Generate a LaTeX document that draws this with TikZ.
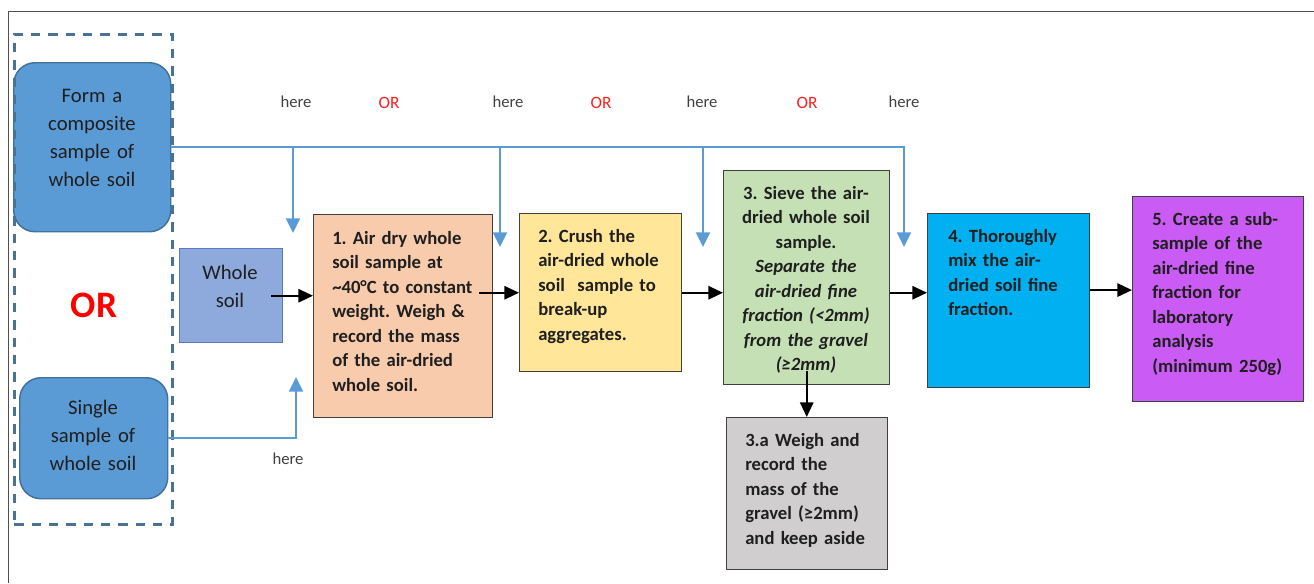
\documentclass[tikz,border=0pt]{standalone}
\usepackage{fontspec}
\setmainfont{Carlito}
\usetikzlibrary{arrows.meta}
\frenchspacing

\tikzset{
  boxsize/.style 2 args={minimum width=0.75*#1pt, minimum height=0.75*#2pt},
  stepbox/.style={draw={rgb, 255:red, 64; green, 64; blue, 64}, line width=1.1pt, inner sep=0pt, anchor=north west},
  samplebox/.style={draw={rgb, 255:red, 65; green, 113; blue, 156}, fill={rgb, 255:red, 91; green, 155; blue, 213}, line width=1.1pt, rounded corners=16pt, inner sep=0pt, anchor=north west},
  steptext/.style={font=\fontsize{14}{18.4}\selectfont\bfseries, text={rgb, 255:red, 31; green, 31; blue, 31}, inner sep=0pt, align=left, anchor=base west},
  sampletext/.style={font=\fontsize{15.5}{21}\selectfont, text={rgb, 255:red, 31; green, 31; blue, 31}, inner sep=0pt, text width=105pt, align=center, anchor=base},
  heretext/.style={font=\fontsize{12.5}{15}\selectfont, text={rgb, 255:red, 64; green, 64; blue, 64}, inner sep=0pt},
  ortext/.style={font=\fontsize{13}{15}\selectfont, text={rgb, 255:red, 255; green, 30; blue, 30}, inner sep=0pt},
  blueline/.style={draw={rgb, 255:red, 91; green, 155; blue, 213}, line width=1.5pt, -{Triangle[width=10.5pt,length=11pt]}},
  blackline/.style={draw=black, line width=1.5pt, -{Triangle[width=10pt,length=11pt]}},
}

\begin{document}
\begin{tikzpicture}[x=0.75pt,y=0.75pt,yscale=-1,xscale=1]
  \useasboundingbox (0,0) rectangle (1314,583);

  %Straight Lines: frame
  \draw [color={rgb, 255:red, 80; green, 80; blue, 80 }, line width=1.1pt] (8.5,583) -- (8.5,11.5) -- (1314,11.5);

  %Shape: samples
  \node [samplebox, boxsize={157}{169}] (comp) at (13,62) {};
  \node [samplebox, boxsize={148}{121}] (single) at (19,377) {};
  % Text Node
  \node [sampletext] (comptxt) at (92,102) {Form a\\composite\\sample of\\whole soil};
  \node [sampletext] (singletxt) at (93,414) {Single\\sample of\\whole soil};
  \node [font=\fontsize{28}{30}\selectfont\bfseries, text={rgb, 255:red, 255; green, 0; blue, 0}, inner sep=0pt] (bigor) at (94,305) {OR};

  %Shape: dashed group
  \node [draw={rgb, 255:red, 74; green, 113; blue, 150}, line width=2.2pt, dash pattern=on 7pt off 6pt, inner sep=0pt, anchor=north west, boxsize={158}{490}] (choice) at (13,33) {};

  %Shape: whole soil
  \node [draw={rgb, 255:red, 90; green, 120; blue, 190}, fill={rgb, 255:red, 142; green, 169; blue, 219}, line width=1.1pt, inner sep=0pt, anchor=north west, boxsize={103}{94}] (whole) at (179,248) {};
  \node [sampletext, text width=70pt] (wholetxt) at (230,279) {Whole\\soil};

  %Shape: steps
  \node [stepbox, fill={rgb, 255:red, 248; green, 203; blue, 173}, boxsize={179}{203}] (s1) at (313,214) {};
  \node [stepbox, fill={rgb, 255:red, 255; green, 230; blue, 153}, boxsize={162}{158}] (s2) at (519,213) {};
  \node [stepbox, fill={rgb, 255:red, 197; green, 224; blue, 180}, boxsize={166}{214}] (s3) at (723,170) {};
  \node [stepbox, fill={rgb, 255:red, 208; green, 206; blue, 206}, boxsize={161}{152}] (s3a) at (726,417) {};
  \node [stepbox, fill={rgb, 255:red, 0; green, 176; blue, 240}, boxsize={162}{174}] (s4) at (927,213) {};
  \node [stepbox, fill={rgb, 255:red, 202; green, 92; blue, 245}, boxsize={171}{205}] (s5) at (1132,196) {};

  % Text Node
  \node [steptext, text width=130pt] (s1txt) at (332,244) {1. Air dry whole\\soil sample at\\\textasciitilde40°C to constant\\weight. Weigh \&\\record the mass\\of the air-dried\\whole soil.};
  % Text Node
  \node [steptext, text width=115pt] (s2txt) at (538,242) {2. Crush the\\air-dried whole\\soil \ sample to\\break-up\\aggregates.};
  % Text Node
  \node [steptext, text width=124pt, align=center, anchor=base] (s3txt) at (806,199) {3. Sieve the air-\\dried whole soil\\sample.\\\itshape Separate the\\\itshape air-dried fine\\\itshape fraction (<2mm)\\\itshape from the gravel\\\itshape (≥2mm)};
  % Text Node
  \node [steptext, text width=115pt] (s3atxt) at (745,446) {3.a Weigh and\\record the\\mass of the\\gravel (≥2mm)\\and keep aside};
  % Text Node
  \node [steptext, text width=115pt] (s4txt) at (948,242) {4. Thoroughly\\mix the air-\\dried soil fine\\fraction.};
  % Text Node
  \node [steptext, text width=120pt] (s5txt) at (1152,225) {5. Create a sub-\\sample of the\\air-dried fine\\fraction for\\laboratory\\analysis\\(minimum 250g)};

  % Text Node: here / OR
  \foreach \x/\n in {296/1,508/2,702/3,904/4}
    \node [heretext] (here\n) at (\x,102) {here};
  \foreach \x/\n in {389/1,601/2,807/3}
    \node [ortext] (or\n) at (\x,103) {OR};
  \node [heretext] (here0) at (288,459) {here};

  %Straight Lines: blue feeds
  \coordinate (tap0) at (296,377);
  \coordinate (tap1) at (293,233);
  \coordinate (tap2) at (500,247);
  \coordinate (tap3) at (703,247);
  \coordinate (tap4) at (904,247);
  \draw [blueline] (comp.east) -| (tap4);
  \foreach \t in {tap1,tap2,tap3}
    \draw [blueline] (comp.east -| \t) -- (\t);
  \draw [blueline] (single.east) -| (tap0);

  %Straight Lines: process flow
  \draw [blackline, shorten <=-9pt] (whole.east) -- (whole.east -| s1.west);
  \draw [blackline, shorten <=-10.5pt] (s2.west -| s1.east) -- (s2.west);
  \draw [blackline] (s2.east) -- (s2.east -| s3.west);
  \draw [blackline] (s3.east |- s2.east) -- (s2.east -| s4.west);
  \draw [blackline] ([yshift=-2pt]s4.east |- s2.east) -- ([yshift=-2pt]s2.east -| s5.west);
  \draw [blackline, shorten <=-10.5pt] (s3.south) -- (s3.south |- s3a.north);
\end{tikzpicture}
\end{document}
